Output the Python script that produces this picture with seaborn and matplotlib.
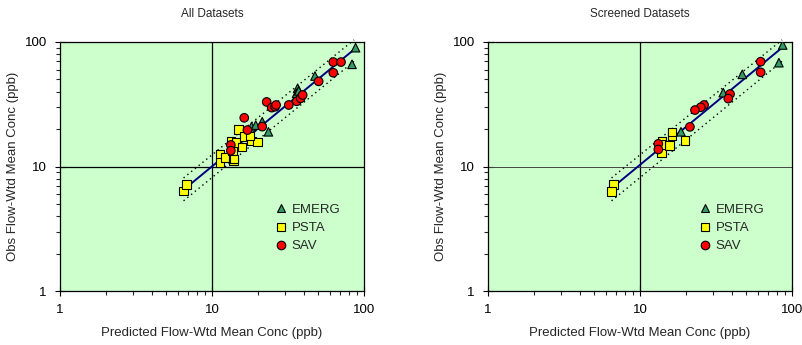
import numpy as np
import pandas as pd
import matplotlib
matplotlib.use("Agg")
import matplotlib.pyplot as plt
import seaborn as sns
from matplotlib.ticker import LogLocator, NullFormatter, FixedLocator, FixedFormatter

sns.set_style("ticks")
plt.rcParams['font.family'] = ['Liberation Sans', 'DejaVu Sans']

# ---------------- data (All Datasets) ----------------
all_emerg_x = [18.2, 19.4, 21.4, 23.5, 36.6, 36.0, 37.2, 47.6, 88.0, 83.4]
all_emerg_y = [20.9, 21.5, 22.9, 19.0, 42.5, 38.7, 40.5, 53.3, 90.0, 66.2]
all_psta_x = [6.47, 6.78, 11.3, 11.3, 12.2, 13.3, 13.8, 13.6, 14.4, 15.0, 15.8, 16.3, 18.2, 20.0, 17.8, 14.0]
all_psta_y = [6.36, 7.14, 12.5, 10.8, 11.8, 15.8, 11.1, 13.3, 15.6, 19.9, 14.4, 17.4, 16.0, 15.7, 17.6, 11.5]
all_sav_x = [13.3, 13.3, 16.3, 17.1, 21.4, 22.9, 24.7, 26.0, 26.4, 32.0, 36.1, 38.3, 39.5, 50.3, 62.8, 70.6, 62.8]
all_sav_y = [14.9, 13.4, 24.6, 19.6, 20.9, 33.0, 29.7, 30.2, 31.2, 31.2, 33.4, 35.3, 37.5, 48.3, 69.0, 69.0, 56.6]

# ---------------- data (Screened Datasets) ----------------
scr_emerg_x = [86.9, 82.0, 47.1, 35.3, 18.6]
scr_emerg_y = [94.6, 68.2, 55.0, 39.2, 19.0]
scr_psta_x = [6.68, 6.51, 13.9, 14.0, 15.7, 16.2, 16.2, 19.8, 13.6]
scr_psta_y = [7.20, 6.32, 12.9, 15.8, 14.7, 17.6, 19.0, 16.1, 15.0]
scr_sav_x = [62.2, 62.2, 39.1, 38.1, 26.4, 25.1, 23.0, 21.3, 13.2, 13.2]
scr_sav_y = [69.5, 57.1, 38.2, 35.1, 31.2, 29.9, 28.4, 20.8, 15.2, 13.7]

# regression line and band
all_fit_x = [7.0, 87.0]
all_fit_y = [7.0, 88.0]
scr_fit_x = [7.0, 86.0]
scr_fit_y = [7.2, 90.0]
band_x = [6.5, 86.0]
band_hi = [8.1, 104.0]
band_lo = [5.3, 70.0]

groups = ["EMERG", "PSTA", "SAV"]
markers = {"EMERG": "^", "PSTA": "s", "SAV": "o"}
palette = {"EMERG": "#339966", "PSTA": "#FFFF00", "SAV": "#FF0000"}
titles = ["All Datasets", "Screened Datasets"]


def make_df(ex, ey, px, py, sx, sy):
    rows = []
    for g, xs, ys in zip(groups, [ex, px, sx], [ey, py, sy]):
        for a, b in zip(xs, ys):
            rows.append({"pred": a, "obs": b, "group": g})
    return pd.DataFrame(rows)


df_all = make_df(all_emerg_x, all_emerg_y, all_psta_x, all_psta_y, all_sav_x, all_sav_y)
df_scr = make_df(scr_emerg_x, scr_emerg_y, scr_psta_x, scr_psta_y, scr_sav_x, scr_sav_y)

fig = plt.figure(figsize=(8.03, 3.45), dpi=100)
ax1 = fig.add_axes([60 / 803, 54 / 345, 304 / 803, 249 / 345])
ax2 = fig.add_axes([488 / 803, 54 / 345, 304 / 803, 249 / 345])

panels = [
    (ax1, df_all, all_fit_x, all_fit_y, 0.705),
    (ax2, df_scr, scr_fit_x, scr_fit_y, 0.692),
]

for i, (ax, df, fx, fy, legx) in enumerate(panels):
    ax.set_facecolor("#CCFFCC")
    ax.set_xscale("log")
    ax.set_yscale("log")
    ax.set_xlim(1, 100)
    ax.set_ylim(1, 100)
    ax.axvline(10, color="black", lw=0.9, zorder=1)
    ax.axhline(10, color="black" if i == 0 else "#444444", lw=0.9 if i == 0 else 0.7, zorder=1)
    ax.plot(band_x, band_hi, color="black", lw=1.0, ls=(0, (1, 2.5)), zorder=2, clip_on=False)
    ax.plot(band_x, band_lo, color="black", lw=1.0, ls=(0, (1, 2.5)), zorder=2, clip_on=False)
    sns.lineplot(x=fx, y=fy, color="#000080", lw=1.4, ax=ax, zorder=3)
    sns.scatterplot(data=df, x="pred", y="obs", hue="group", style="group",
                    markers=markers, palette=palette, hue_order=groups, style_order=groups,
                    s=38, edgecolor="black", linewidth=0.8, ax=ax, zorder=4, legend=True)
    sns.move_legend(ax, loc="upper left", bbox_to_anchor=(legx, 0.35), frameon=False,
                    title=None, borderpad=0, borderaxespad=0, handlelength=1.0,
                    handletextpad=0.3, labelspacing=0.45, fontsize=9.5)
    ax.xaxis.set_major_locator(FixedLocator([1, 10, 100]))
    ax.xaxis.set_major_formatter(FixedFormatter(["1", "10", "100"]))
    ax.yaxis.set_major_locator(FixedLocator([1, 10, 100]))
    ax.yaxis.set_major_formatter(FixedFormatter(["1", "10", "100"]))
    ax.xaxis.set_minor_locator(LogLocator(base=10, subs=np.arange(2, 10)))
    ax.yaxis.set_minor_locator(LogLocator(base=10, subs=np.arange(2, 10)))
    ax.xaxis.set_minor_formatter(NullFormatter())
    ax.yaxis.set_minor_formatter(NullFormatter())
    ax.tick_params(which="major", direction="inout", length=7, width=0.8, labelsize=9.5, pad=6,
                   colors="black")
    ax.tick_params(which="minor", direction="out", length=3, width=0.8)
    for sp in ax.spines.values():
        sp.set_color("black")
        sp.set_linewidth(0.9)
    ax.set_xlabel("Predicted Flow-Wtd Mean Conc (ppb)", fontsize=9.5, labelpad=8)
    ax.set_ylabel("Obs Flow-Wtd Mean Conc (ppb)", fontsize=9.5, labelpad=4)
    ax.set_title(titles[i], fontsize=8.5, pad=18)

fig.savefig("out.png", dpi=100)
